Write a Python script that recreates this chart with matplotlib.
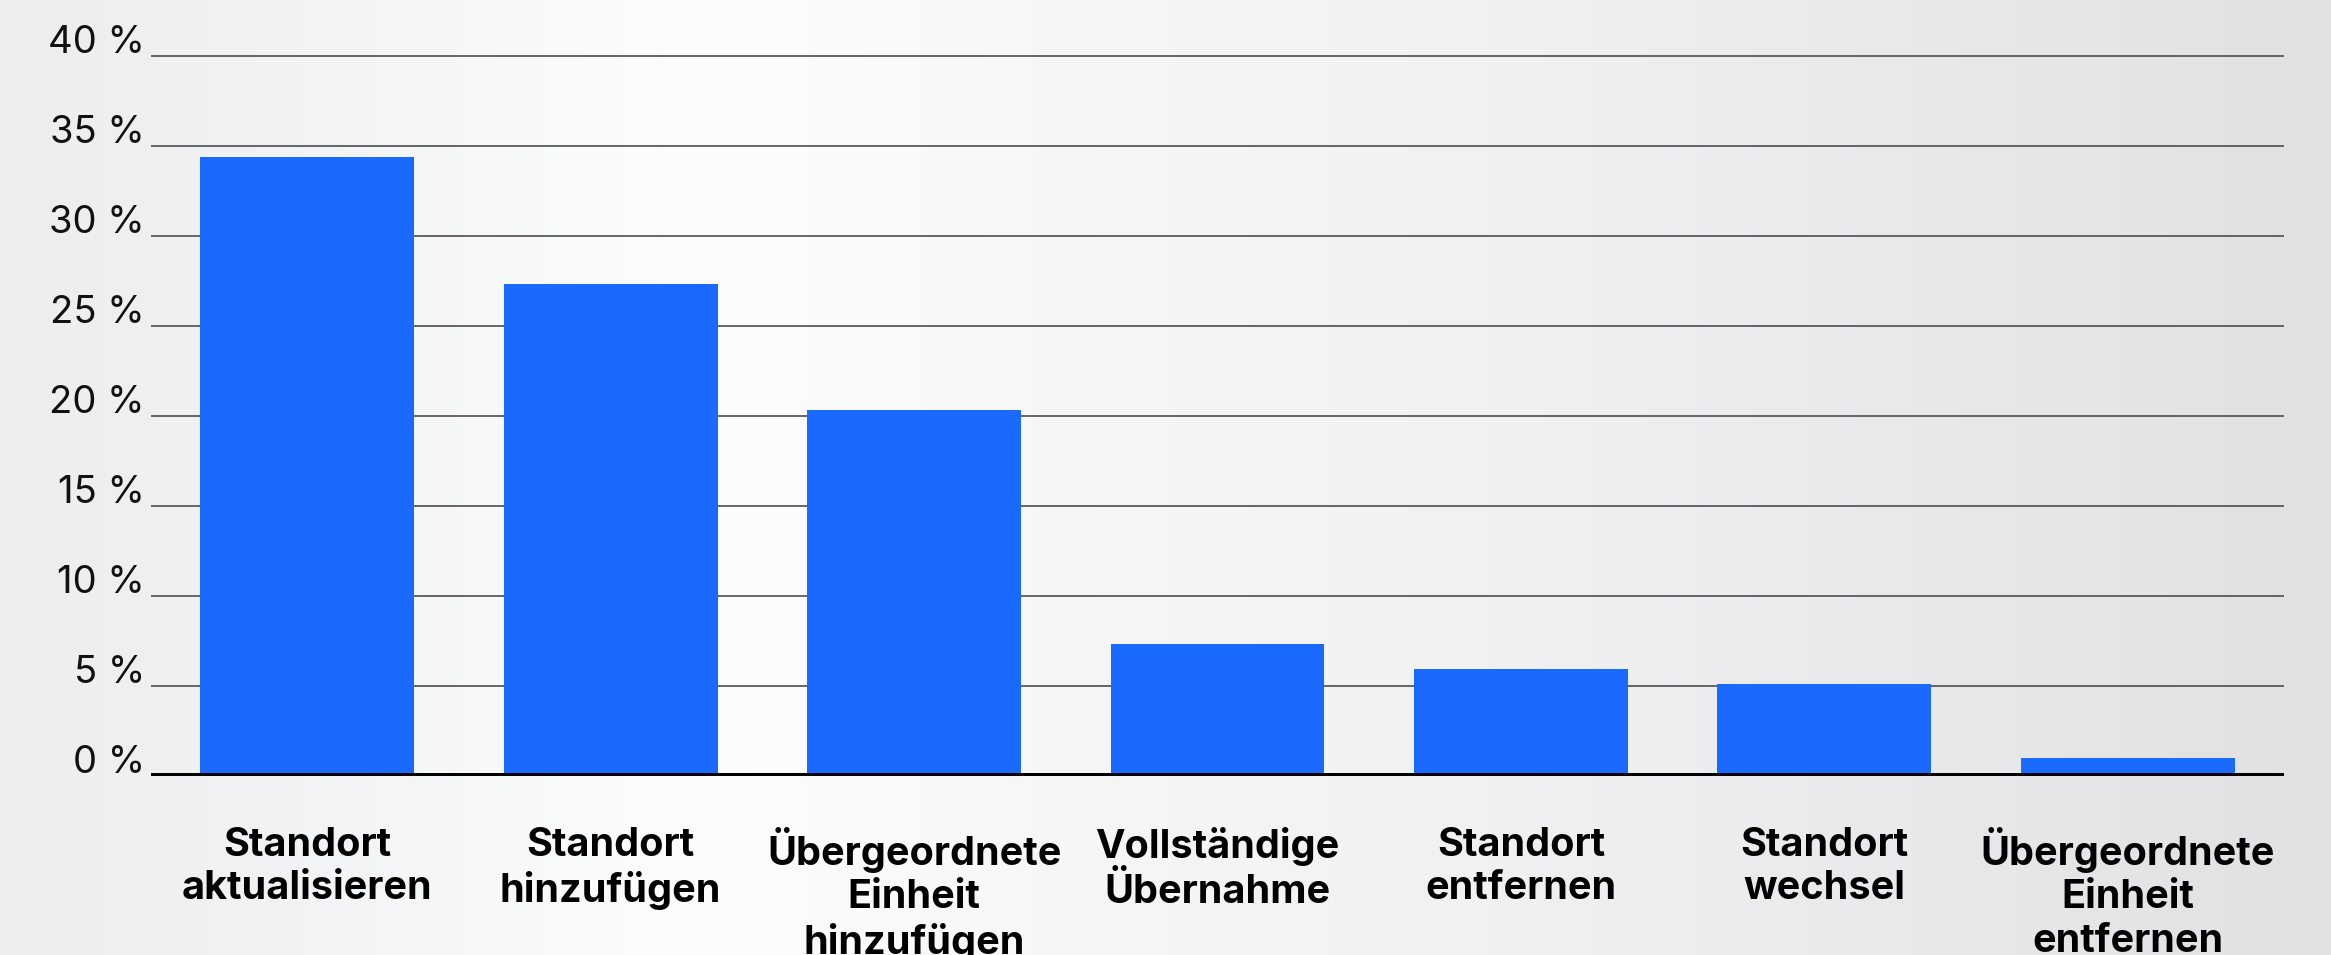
import matplotlib
matplotlib.use("Agg")
import matplotlib.pyplot as plt
import matplotlib.transforms as mtransforms
import numpy as np

# data
categories = [
    "Standort\naktualisieren",
    "Standort\nhinzufügen",
    "Übergeordnete\nEinheit\nhinzufügen",
    "Vollständige\nÜbernahme",
    "Standort\nentfernen",
    "Standort\nwechsel",
    "Übergeordnete\nEinheit\nentfernen",
]
shares = [34.4, 27.3, 20.3, 7.3, 5.9, 5.1, 1.0]
yticks = [0, 5, 10, 15, 20, 25, 30, 35, 40]
ytick_labels = [f"{t} %" for t in yticks]

plt.rcParams['font.family'] = ['Inter', 'DejaVu Sans']

fig = plt.figure(figsize=(23.31, 9.55), dpi=100)

# soft horizontal background gradient
bg = fig.add_axes([0, 0, 1, 1], zorder=-10)
xs = np.linspace(0, 1, 600)
stops = [0.0, 0.11, 0.30, 0.47, 0.64, 0.82, 1.0]
levels = [[236, 237, 239], [241, 242, 243], [253, 253, 253], [246, 246, 246],
          [241, 241, 242], [233, 233, 235], [225, 225, 228]]
levels = np.array(levels) / 255.0
grad = np.stack([np.interp(xs, stops, levels[:, c]) for c in range(3)], axis=-1)
bg.imshow(grad[np.newaxis, :, :], aspect='auto', extent=[0, 1, 0, 1])
bg.axis('off')

ax = fig.add_axes([151 / 2331, 179.3 / 955, (2284 - 151) / 2331, 18 * 41 / 955])
ax.patch.set_alpha(0)

x = np.arange(len(categories))
ax.bar(x, shares, width=0.705, color='#1b6aff', zorder=2)

for t in yticks[1:]:
    ax.axhline(t, color='#4d4d4d', lw=1.2, zorder=1)
ax.axhline(0, color='black', lw=4.3, zorder=3)

ax.set_xlim(-0.515, len(categories) - 0.485)
ax.set_ylim(0, 41)

ax.set_yticks(yticks)
ax.set_yticklabels(ytick_labels, fontsize=27.5, color='#111111')
ax.tick_params(axis='y', length=0, pad=4.5)
lift = mtransforms.ScaledTranslation(0, 3 / 100, fig.dpi_scale_trans)
for tick in ax.yaxis.get_major_ticks():
    tick.label1.set_verticalalignment('baseline')
    tick.label1.set_transform(tick.label1.get_transform() + lift)

ax.set_xticks(x)
ax.set_xticklabels(categories, fontsize=28.5, fontweight='bold', linespacing=1.22)
ax.tick_params(axis='x', length=0, pad=37)

for s in ax.spines.values():
    s.set_visible(False)

fig.savefig("out.png", dpi=100)
